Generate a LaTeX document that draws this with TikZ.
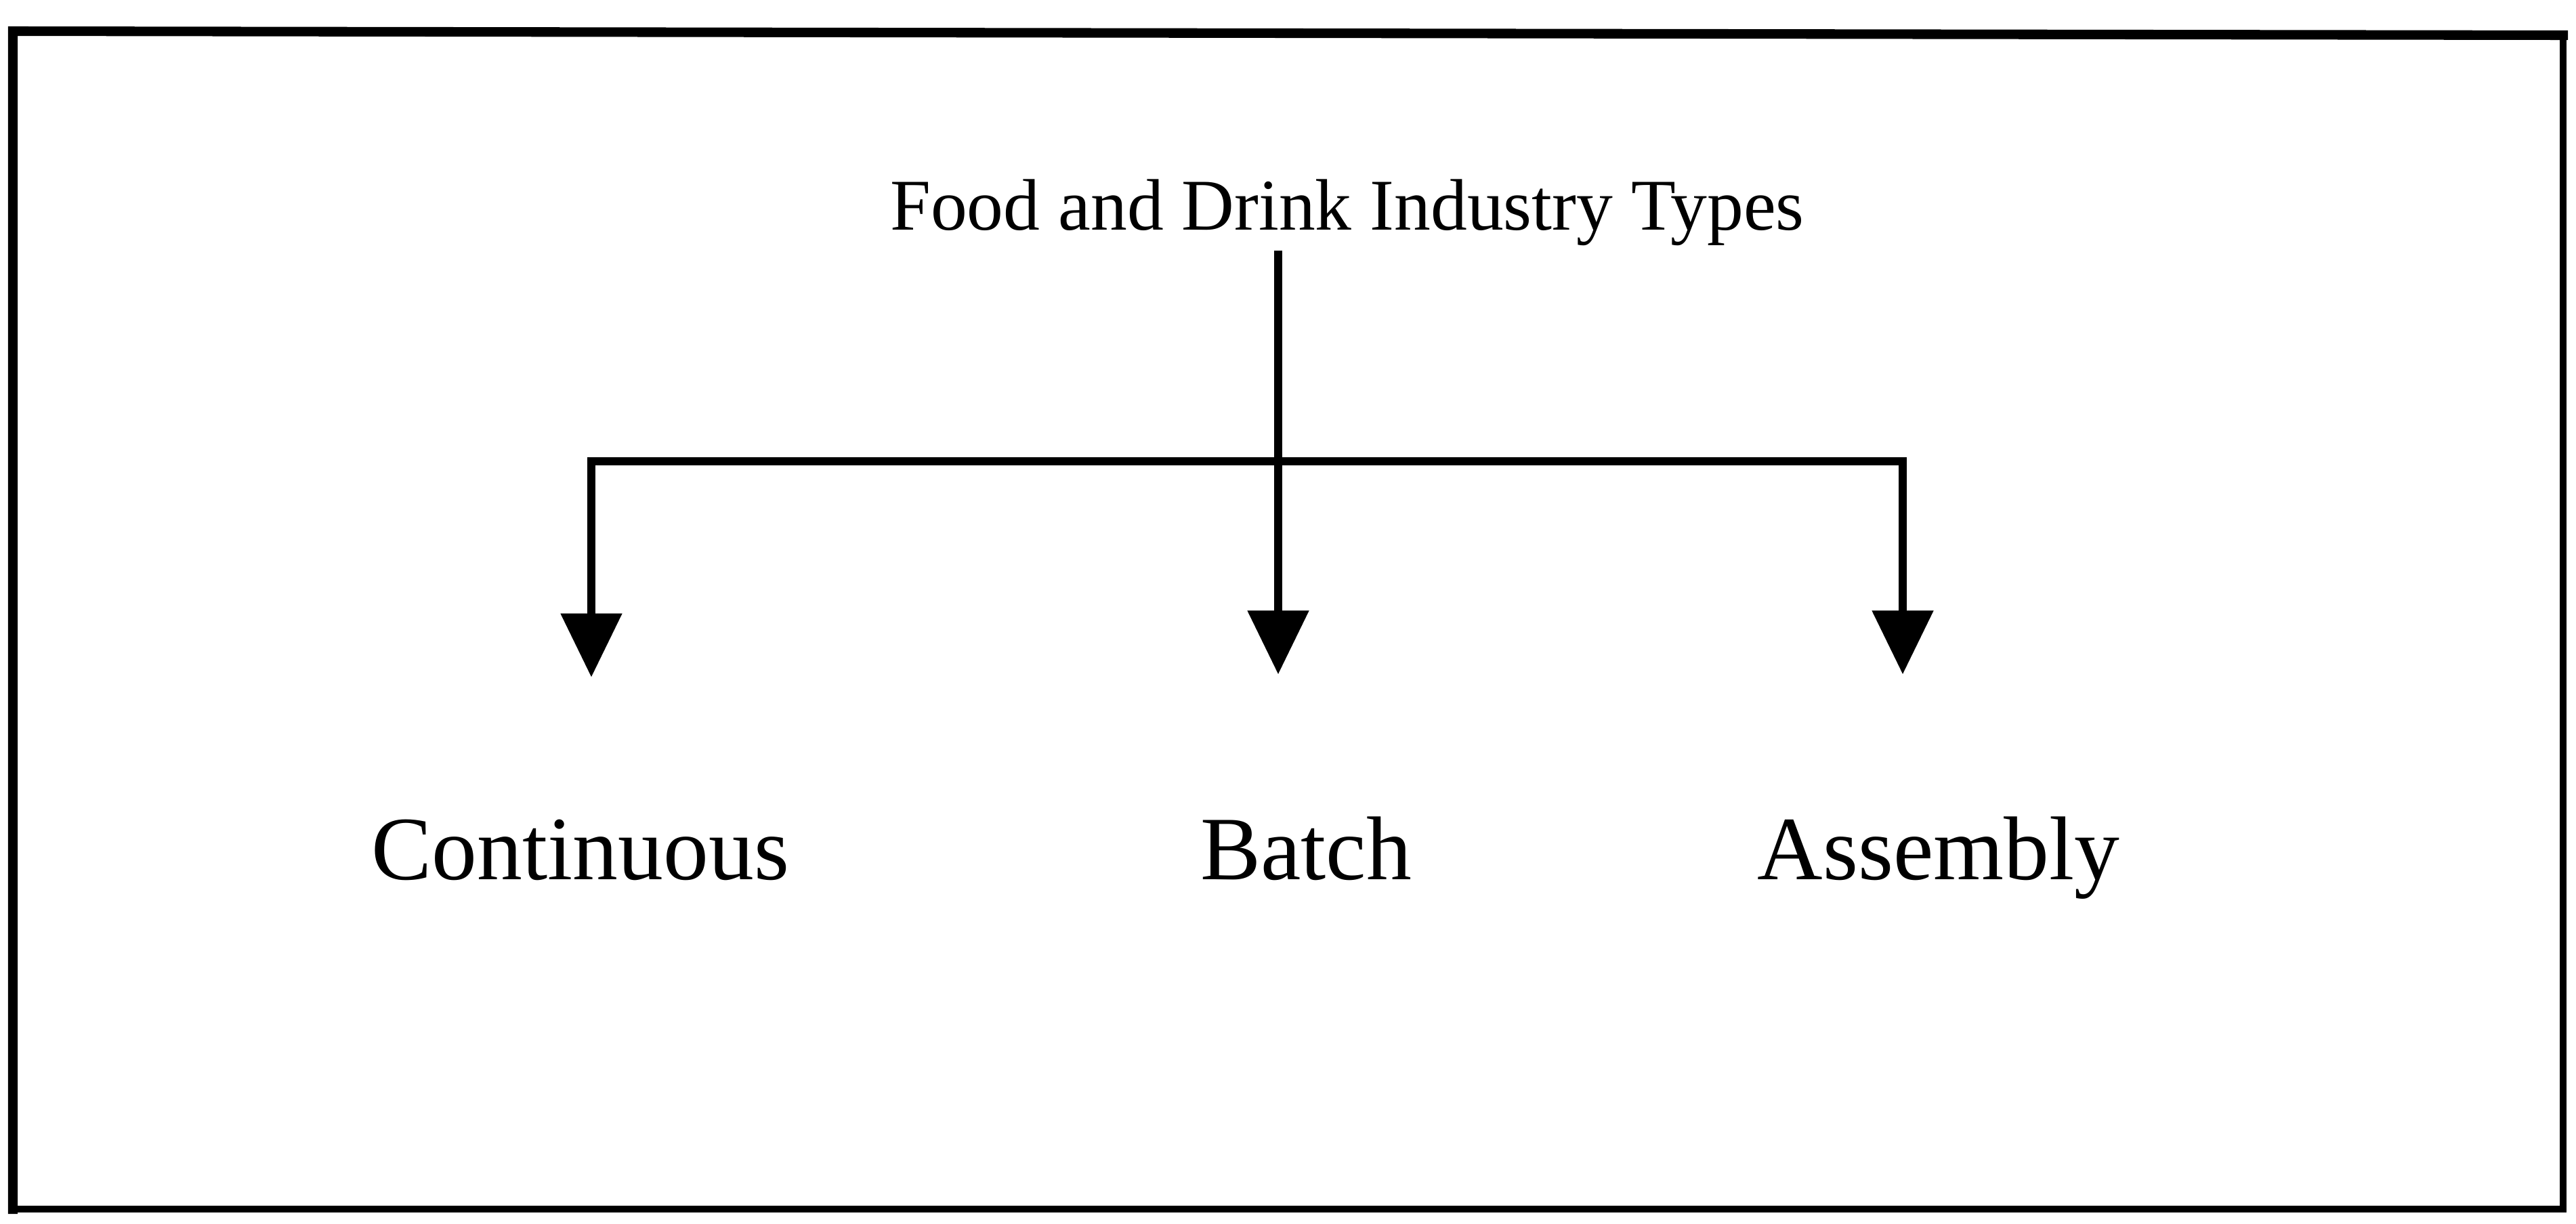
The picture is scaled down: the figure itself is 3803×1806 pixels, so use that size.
\documentclass[tikz,border=0pt]{standalone}
\usepackage{fontspec}
\setmainfont{Liberation Serif}
\usetikzlibrary{arrows.meta}

\tikzset{
  frame/.style={draw=black, line width=4pt, line cap=rect},
  thinframe/.style={draw=black, line width=3pt, line cap=rect},
  label/.style={inner sep=0pt, anchor=base, font=\fontsize{38}{44}\selectfont},
  heading/.style={inner sep=0pt, anchor=base, font=\fontsize{30.6}{36}\selectfont},
  link/.style={draw=black, line width=3.4pt},
  arr/.style={link, -{Triangle[width=0.88cm,length=0.94cm]}, shorten >=2.09cm}
}

\begin{document}
\begin{tikzpicture}[x=0.01cm, y=-0.01cm]
  % page area and outer frame
  \useasboundingbox (0,0) rectangle (3803,1806);
  \coordinate (tl) at (19,46);
  \coordinate (tr) at (3784,52);
  \coordinate (br) at (3784,1785);
  \coordinate (bl) at (19,1785);
  \draw[frame] (bl) -- (tl) -- (tr);
  \draw[thinframe] (tr) -- (br) -- (bl);

  % heading and the three industry types
  \node[heading] (title) at (1989,340) {Food and Drink Industry Types};
  \node[label] (cont)  at (857,1298)  {Continuous};
  \node[label] (batch) at (1928,1298) {Batch};
  \node[label] (assem) at (2862,1298) {Assembly};

  % branching point of the tree
  \coordinate (hub)   at (1887,681);
  \coordinate (left)  at (873,681);
  \coordinate (right) at (2809,681);

  % trunk from the heading down to the bar
  \draw[link] (hub |- title.south) ++(0,6) -- (hub);
  % horizontal bar
  \draw[link, line cap=rect] (left) -- (right);
  % three arrows
  \draw[arr] (left)  -- (left |- cont.north);
  \draw[arr] (hub)   -- (hub |- batch.north);
  \draw[arr] (right) -- (right |- assem.north);
\end{tikzpicture}
\end{document}
